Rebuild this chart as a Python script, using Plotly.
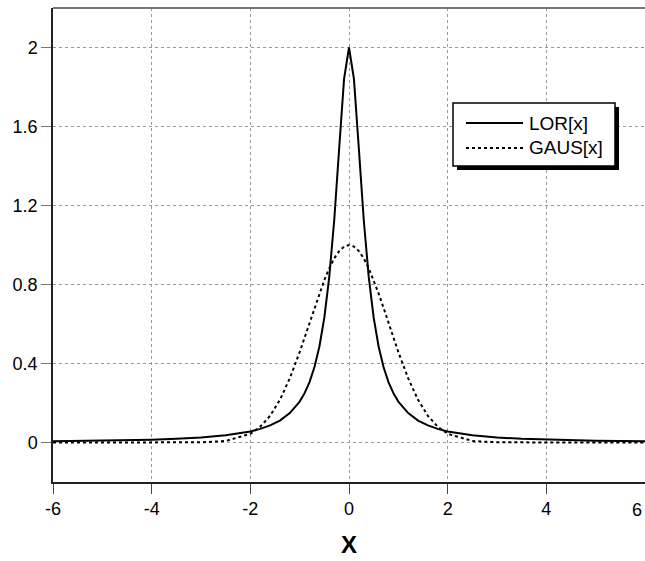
import plotly.graph_objects as go

x_vals = [-6, -5, -4, -3.5, -3, -2.5, -2, -1.8, -1.6, -1.4, -1.2, -1.0, -0.9, -0.8, -0.7,
          -0.6, -0.5, -0.4, -0.3, -0.2, -0.1, 0,
          0.1, 0.2, 0.3, 0.4, 0.5, 0.6, 0.7, 0.8, 0.9, 1.0,
          1.2, 1.4, 1.6, 1.8, 2, 2.5, 3, 3.5, 4, 5, 6]
lor_vals = [0.0064, 0.0092, 0.0144, 0.0187, 0.0254, 0.0363, 0.0562, 0.0689, 0.0864, 0.111,
            0.149, 0.207, 0.250, 0.306, 0.382, 0.486, 0.632, 0.839, 1.124,
            1.486, 1.841, 2.0,
            1.841, 1.486, 1.124, 0.839, 0.632, 0.486, 0.382,
            0.306, 0.250, 0.207, 0.149, 0.111, 0.0864, 0.0689, 0.0562, 0.0363, 0.0254,
            0.0187, 0.0144, 0.0092, 0.0064]
gaus_vals = [0.0, 0.0, 0.0, 0.0001, 0.0009, 0.0076, 0.0439, 0.0796, 0.135, 0.216, 0.325,
             0.458, 0.531, 0.607, 0.682, 0.755, 0.823, 0.882, 0.932, 0.969,
             0.992, 1.0,
             0.992, 0.969, 0.932, 0.882, 0.823, 0.755, 0.682,
             0.607, 0.531, 0.458, 0.325, 0.216, 0.135, 0.0796, 0.0439, 0.0076, 0.0009,
             0.0001, 0.0, 0.0, 0.0]
series_names = ["LOR[x]", "GAUS[x]"]
x_ticks = [-6, -4, -2, 0, 2, 4, 6]
x_tick_text = ["-6", "-4", "-2", "0", "2", "4", "6"]
y_ticks = [0, 0.4, 0.8, 1.2, 1.6, 2]
y_tick_text = ["0", "0.4", "0.8", "1.2", "1.6", "2"]

FONT = "Arial, 'Liberation Sans', sans-serif"

fig = go.Figure()
fig.add_trace(go.Scatter(x=x_vals, y=lor_vals, mode="lines", name=series_names[0],
                         line=dict(color="black", width=2), showlegend=False))
fig.add_trace(go.Scatter(x=x_vals, y=gaus_vals, mode="lines", name=series_names[1],
                         line=dict(color="black", width=2, dash="dot"), showlegend=False))

L, R, T, B = 53, 0, 8, 79
W, H = 645, 561
pw, ph = W - L - R, H - T - B


def px(xp):
    return (xp - L) / pw


def py(yp):
    return (H - B - yp) / ph


shapes = [
    dict(type="line", xref="paper", yref="paper", x0=0, x1=1, y0=1, y1=1,
         line=dict(color="#777", width=2)),
    dict(type="rect", xref="paper", yref="paper", x0=px(457), x1=px(619),
         y0=py(170), y1=py(107), fillcolor="black", line=dict(width=0)),
    dict(type="rect", xref="paper", yref="paper", x0=px(453), x1=px(615),
         y0=py(166), y1=py(103), fillcolor="white", line=dict(color="black", width=1.5)),
]
annotations = []
legend_rows = [123, 148]
legend_dash = ["solid", "dot"]
for name, row, dash in zip(series_names, legend_rows, legend_dash):
    shapes.append(dict(type="line", xref="paper", yref="paper", x0=px(466), x1=px(523),
                       y0=py(row), y1=py(row), line=dict(color="black", width=2, dash=dash)))
    annotations.append(dict(text=name, xref="paper", yref="paper", x=px(527), y=py(row),
                            xanchor="left", yanchor="middle", showarrow=False,
                            font=dict(size=19, color="black")))
# right-edge tick label (the tick sits on the window edge)
annotations.append(dict(text=x_tick_text[-1], xref="x", yref="paper", x=x_ticks[-1],
                        y=py(510), xanchor="right", yanchor="middle", showarrow=False,
                        xshift=-1, font=dict(size=18, color="black")))

fig.update_layout(
    width=W, height=H,
    margin=dict(l=L, r=R, t=T, b=B),
    paper_bgcolor="white", plot_bgcolor="white",
    font=dict(family=FONT, size=18, color="black"),
    showlegend=False,
    xaxis=dict(range=[-6, 6], tickmode="array", tickvals=x_ticks, ticktext=x_tick_text,
               showgrid=True, gridcolor="#999",
               griddash="dot", gridwidth=1, zeroline=False, showline=True,
               linecolor="#222", linewidth=1.5, ticks="outside", ticklen=10,
               tickcolor="#444", title=dict(text="<b>X</b>", font=dict(size=24), standoff=18)),
    yaxis=dict(range=[-0.2, 2.2], tickmode="array", tickvals=y_ticks, ticktext=y_tick_text,
               showgrid=True, gridcolor="#999",
               griddash="dot", gridwidth=1, zeroline=False, showline=True,
               linecolor="#222", linewidth=1.5, ticks="outside", ticklen=10,
               tickcolor="#777"),
    shapes=shapes,
    annotations=annotations,
)

fig.write_html("out.html")
